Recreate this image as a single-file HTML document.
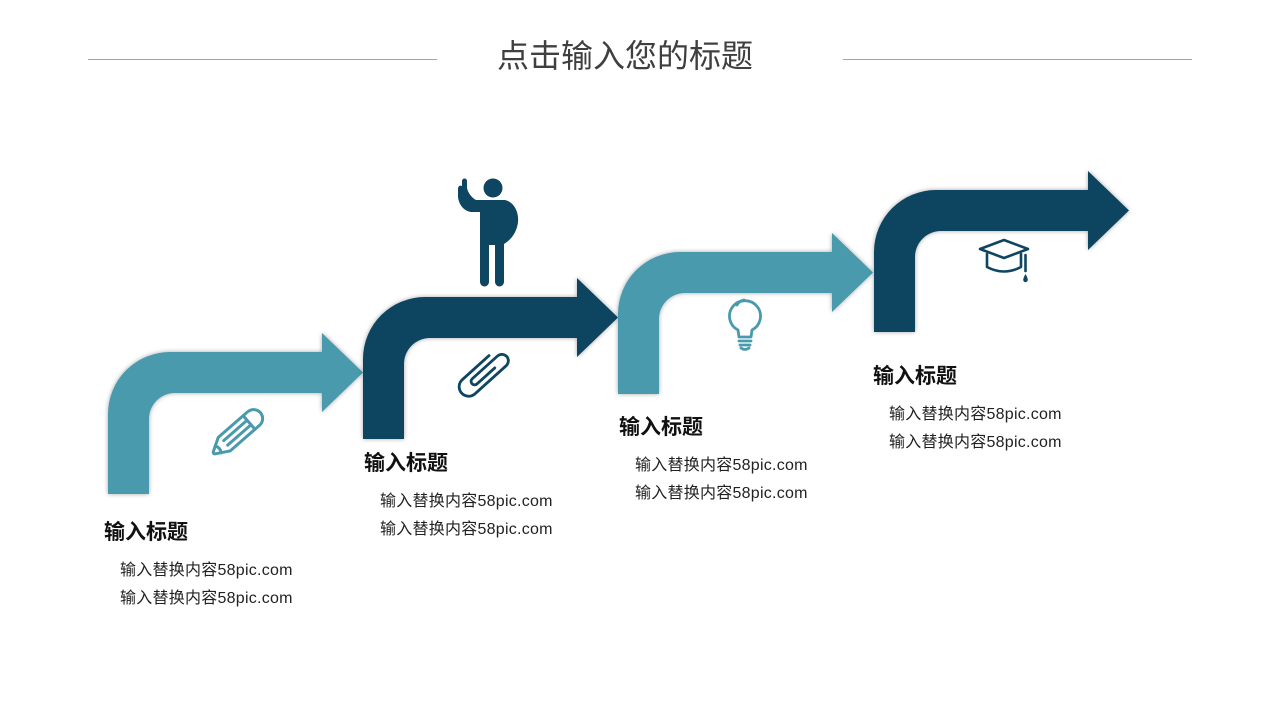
<!DOCTYPE html>
<html>
<head>
<meta charset="utf-8">
<style>
html,body{margin:0;padding:0;background:#fff;}
#c{position:relative;width:1280px;height:720px;overflow:hidden;background:#fff;font-family:"Liberation Sans","Noto Sans CJK SC",sans-serif;}
svg{position:absolute;left:0;top:0;}
.t{position:absolute;white-space:nowrap;}
.title{left:0;width:1250px;text-align:center;top:37px;font-size:32px;line-height:38px;color:#3f3f3f;}
.h{font-size:21px;line-height:22px;font-weight:bold;color:#111;}
.b{font-size:16px;line-height:28px;color:#222;letter-spacing:0.25px;}
</style>
</head>
<body>
<div id="c">
<svg width="1280" height="720" viewBox="0 0 1280 720">
  <defs>
    <filter id="sh" x="-10%" y="-10%" width="120%" height="120%">
      <feGaussianBlur in="SourceAlpha" stdDeviation="2.5"/>
      <feOffset dx="0" dy="0" result="b"/>
      <feComponentTransfer><feFuncA type="linear" slope="0.35"/></feComponentTransfer>
      <feMerge><feMergeNode/><feMergeNode in="SourceGraphic"/></feMerge>
    </filter>
    <path id="arr" d="M0,142 L0,62 A62,62 0 0 1 62,0 L214,0 L214,-19 L255,20.5 L214,60 L214,41 L67,41 A26,26 0 0 0 41,67 L41,142 Z"/>
  </defs>
  <!-- header lines -->
  <line x1="88" y1="59.5" x2="437" y2="59.5" stroke="#a6a6a6" stroke-width="1"/>
  <line x1="843" y1="59.5" x2="1192" y2="59.5" stroke="#a6a6a6" stroke-width="1"/>

  <!-- arrows -->
  <use href="#arr" x="108" y="352" fill="#4a9aad" filter="url(#sh)"/>
  <use href="#arr" x="363" y="297" fill="#0e4560" filter="url(#sh)"/>
  <use href="#arr" x="618" y="252" fill="#4a9aad" filter="url(#sh)"/>
  <use href="#arr" x="874" y="190" fill="#0e4560" filter="url(#sh)"/>

  <!-- pencil -->
  <g transform="translate(237,433) rotate(-41)" fill="none" stroke="#4a9aad" stroke-width="3" stroke-linejoin="round" stroke-linecap="round">
    <path d="M-17,-9 L22,-9 A9,9 0 0 1 22,9 L-17,9 L-30,1.5 Q-32,0 -30,-1.5 Z"/>
    <line x1="-15" y1="-3" x2="15" y2="-3"/>
    <line x1="-15" y1="3" x2="15" y2="3"/>
    <line x1="16" y1="-9" x2="16" y2="9"/>
    <path d="M-25,-4.5 Q-22,0 -25,4.5"/>
  </g>

  <!-- paperclip -->
  <g transform="translate(485,372) rotate(-42)" fill="none" stroke="#0e4560" stroke-width="2.8" stroke-linecap="round" stroke-linejoin="round">
    <path d="M10,3.5 L-14,3.5 A3.5,3.5 0 0 1 -14,-3.5 L20,-3.5 A6.5,6.5 0 0 1 20,9.5 L-22,9.5 A9.5,9.5 0 0 1 -22,-9.5 L14,-9.5"/>
  </g>

  <!-- bulb -->
  <g fill="none" stroke="#4a9aad" stroke-width="2.8" stroke-linecap="round" stroke-linejoin="round">
    <path d="M738,330 A15.5,15.5 0 1 1 752,330 L751,337 L739,337 Z"/>
    <path d="M737,305 A10,10 0 0 1 744,300"/>
    <line x1="739" y1="341" x2="751" y2="341"/>
    <line x1="740" y1="345" x2="750" y2="345"/>
    <path d="M741,348 Q745,351 749,348"/>
  </g>

  <!-- graduation cap -->
  <g fill="none" stroke="#0e4560" stroke-width="2.6" stroke-linecap="round" stroke-linejoin="round">
    <path d="M980,249 L1004,240 L1028,249 L1004,258 Z"/>
    <path d="M987,254 L987,267 Q1004,276 1021,267 L1021,254"/>
    <line x1="1025.5" y1="255" x2="1025.5" y2="271"/>
  </g>
  <path d="M1025.5,274 Q1028.5,279 1027.5,281 A2.3,2.3 0 0 1 1023.5,281 Q1022.5,279 1025.5,274 Z" fill="#0e4560"/>

  <!-- person -->
  <g fill="#0e4560">
    <circle cx="493" cy="188" r="9.5"/>
    <path d="M480,200 L505,200 C514,202 519,212 518,222 C517,232 511,240 504,244 L504,282 A4.5,4.5 0 0 1 495,282 L495,245 L489,245 L489,282 A4.5,4.5 0 0 1 480,282 Z"/>
    <path d="M462,181 A2.5,2.5 0 0 1 467,181 L467,188 C468,193 472,198 476,200 L482,200 L482,212 L471,212 C464,211 459,205 458,197 L458,189 C458,186 460,185 462,186 Z"/>
  </g>
</svg>

<div class="t title">点击输入您的标题</div>

<div class="t h" style="left:104px;top:522px;">输入标题</div>
<div class="t b" style="left:120px;top:557px;">输入替换内容58pic.com</div>
<div class="t b" style="left:120px;top:585px;">输入替换内容58pic.com</div>

<div class="t h" style="left:364px;top:453px;">输入标题</div>
<div class="t b" style="left:380px;top:488px;">输入替换内容58pic.com</div>
<div class="t b" style="left:380px;top:516px;">输入替换内容58pic.com</div>

<div class="t h" style="left:619px;top:417px;">输入标题</div>
<div class="t b" style="left:635px;top:452px;">输入替换内容58pic.com</div>
<div class="t b" style="left:635px;top:480px;">输入替换内容58pic.com</div>

<div class="t h" style="left:873px;top:366px;">输入标题</div>
<div class="t b" style="left:889px;top:401px;">输入替换内容58pic.com</div>
<div class="t b" style="left:889px;top:429px;">输入替换内容58pic.com</div>
</div>
</body>
</html>
